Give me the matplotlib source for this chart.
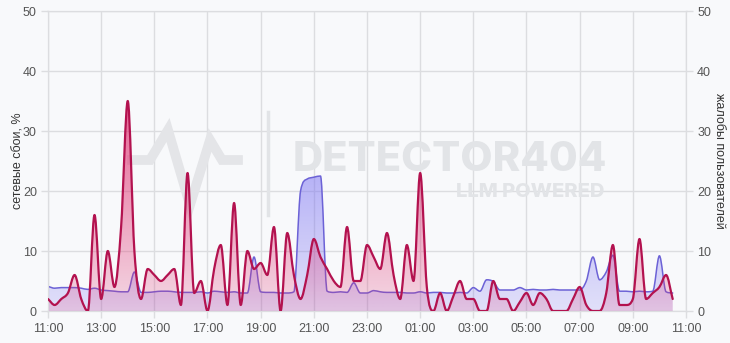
import numpy as np
import matplotlib
matplotlib.use("Agg")
import matplotlib.pyplot as plt
from matplotlib.path import Path
from matplotlib.patches import PathPatch
from matplotlib.colors import LinearSegmentedColormap

# 15-minute samples starting at 11:00 (hours after 11:00)
hours = np.arange(95) * 0.25

# сетевые сбои, % (left axis)
failures = [4.1, 3.8, 3.9, 3.9, 3.9, 3.8, 3.6, 3.8, 3.5, 3.4, 3.3, 3.2, 3.2, 6.5, 3.1, 3.1,
            3.2, 3.3, 3.3, 3.2, 3.1, 3.1, 3.1, 3.2, 3.0, 3.3, 3.2, 3.1, 3.2, 3.0, 3.0, 9.0,
            3.2, 3.1, 3.1, 3.0, 3.0, 3.2, 20.0, 22.0, 22.3, 22.5, 3.3, 3.1, 3.2, 3.1, 4.7, 3.0,
            3.0, 3.4, 3.2, 3.1, 3.1, 3.1, 3.0, 3.0, 3.2, 3.0, 3.1, 3.1, 3.0, 3.0, 3.1, 3.0,
            3.9, 3.3, 5.2, 4.9, 3.5, 3.5, 3.5, 3.9, 3.5, 3.6, 3.5, 3.5, 3.6, 3.5, 3.5, 3.5,
            3.5, 5.0, 9.0, 5.2, 6.5, 9.3, 3.3, 3.3, 3.2, 3.3, 3.2, 3.3, 9.2, 3.2, 3.0]

# жалобы пользователей (right axis)
complaints = [2, 1, 2, 3, 6, 2, 0, 16, 2, 10, 4, 14, 35, 10, 2, 7,
              6, 5, 6, 7, 1, 23, 3, 5, 0, 7, 11, 1, 18, 1, 10, 7,
              8, 6, 14, 0, 13, 6, 2, 6, 12, 9, 7, 5, 4, 14, 5, 5,
              11, 9, 7, 13, 6, 2, 11, 5, 23, 4, 0, 3, 0, 2.5, 5, 2,
              2, 0, 0, 5, 2, 2, 0, 1.5, 3, 1, 3, 2, 0, 0, 0, 2,
              4, 1, 0, 0, 3, 11, 1, 1, 2, 12, 2, 3, 4, 6, 2]

tick_hours = [0, 2, 4, 6, 8, 10, 12, 14, 16, 18, 20, 22, 24]
tick_labels = ["11:00", "13:00", "15:00", "17:00", "19:00", "21:00", "23:00",
               "01:00", "03:00", "05:00", "07:00", "09:00", "11:00"]


def monotone_tangents(x, y):
    n = len(x)
    d = np.diff(y) / np.diff(x)
    m = np.zeros(n)
    m[0], m[-1] = d[0], d[-1]
    for i in range(1, n - 1):
        if d[i - 1] * d[i] > 0:
            m[i] = (d[i - 1] + d[i]) / 2
    for i in range(n - 1):
        if d[i] == 0:
            m[i] = m[i + 1] = 0
            continue
        a, b = m[i] / d[i], m[i + 1] / d[i]
        s = a * a + b * b
        if s > 9:
            t = 3 / np.sqrt(s)
            m[i] = a * t * d[i]
            m[i + 1] = b * t * d[i]
    return m


def curve_path(x, y, closed=False):
    x = np.asarray(x, float)
    y = np.asarray(y, float)
    m = monotone_tangents(x, y)
    verts = [(x[0], y[0])]
    codes = [Path.MOVETO]
    for i in range(len(x) - 1):
        dx = (x[i + 1] - x[i]) / 3
        verts += [(x[i] + dx, y[i] + m[i] * dx),
                  (x[i + 1] - dx, y[i + 1] - m[i + 1] * dx),
                  (x[i + 1], y[i + 1])]
        codes += [Path.CURVE4] * 3
    if closed:
        verts += [(x[-1], 0), (x[0], 0), (x[0], 0)]
        codes += [Path.LINETO, Path.LINETO, Path.CLOSEPOLY]
    return Path(verts, codes)


def draw_series(ax, x, y, line_color, rgb, a_low, a_high, lw):
    cmap = LinearSegmentedColormap.from_list(
        "g", [(*rgb, a_low), (*rgb, a_high)])
    grad = np.linspace(0, 1, 256).reshape(-1, 1)
    fill = PathPatch(curve_path(x, y, closed=True), facecolor="none",
                     edgecolor="none", transform=ax.transData)
    ax.add_patch(fill)
    im = ax.imshow(grad, cmap=cmap, origin="lower", aspect="auto",
                   extent=[x[0], x[-1], 0, 50], zorder=1)
    im.set_clip_path(fill)
    ax.add_patch(PathPatch(curve_path(x, y), facecolor="none",
                           edgecolor=line_color, lw=lw, zorder=3,
                           capstyle="round", joinstyle="round"))


bg = "#f8f9fb"
grid_c = "#dcdde0"
text_c = "#555555"
wm_c = "#e2e4e7"
plt.rcParams["font.family"] = ["Liberation Sans", "DejaVu Sans"]

fig = plt.figure(figsize=(7.3, 3.43), dpi=100, facecolor=bg)
ax = fig.add_axes([48 / 730, 32 / 343, 638 / 730, 300 / 343])
ax.set_facecolor(bg)

# watermark
fig.text(450 / 730, 1 - 160 / 343, "DETECTOR404", fontsize=30, fontweight="heavy",
         family=["Inter", "DejaVu Sans"], color=wm_c, ha="center",
         va="center", zorder=0)
fig.text(530 / 730, 1 - 192 / 343, "LLM POWERED", fontsize=14.5, fontweight="heavy",
         family=["Inter", "DejaVu Sans"], color=wm_c, ha="center",
         va="center", zorder=0)
fig.lines.append(plt.Line2D([268 / 730, 268 / 730], [1 - 112 / 343, 1 - 215 / 343],
                            transform=fig.transFigure, color=wm_c, lw=2.5, zorder=0))
fig.lines.append(plt.Line2D(np.array([132, 150, 168, 190, 210, 222, 238]) / 730,
                            1 - np.array([160, 160, 130, 205, 140, 160, 160]) / 343,
                            transform=fig.transFigure, color="#e4e5e8", lw=7,
                            solid_joinstyle="miter", zorder=0))

ax2 = ax.twinx()

draw_series(ax, hours, failures, "#6c62d6", (0.47, 0.43, 0.95), 0.18, 0.9, 1.1)
draw_series(ax2, hours, complaints, "#b3124f", (0.88, 0.20, 0.45), 0.17, 1.0, 1.6)

for a in (ax, ax2):
    a.set_xlim(0, 24)
    a.set_ylim(0, 50)
    a.set_yticks([0, 10, 20, 30, 40, 50])
    for s in a.spines.values():
        s.set_color(grid_c)
    a.tick_params(colors=grid_c, labelcolor=text_c, labelsize=9, length=5, width=1)

ax.set_zorder(0)
ax2.set_zorder(1)
ax2.patch.set_visible(False)

ax.set_xticks(tick_hours)
ax.set_xticklabels(tick_labels)
ax.grid(True, color=grid_c, lw=1, zorder=0)
ax.set_axisbelow(True)
ax.tick_params(axis="y", pad=3)
ax2.tick_params(axis="y", pad=3)

ax.set_ylabel("сетевые сбои, %", fontsize=9, color="#333333", va="center")
ax.yaxis.set_label_coords(-0.047, 0.5)
ax2.set_ylabel("жалобы пользователей", fontsize=9, color="#333333",
               rotation=270, va="center")
ax2.yaxis.set_label_coords(1.052, 0.5)

fig.savefig("out.png", dpi=100, facecolor=bg)
